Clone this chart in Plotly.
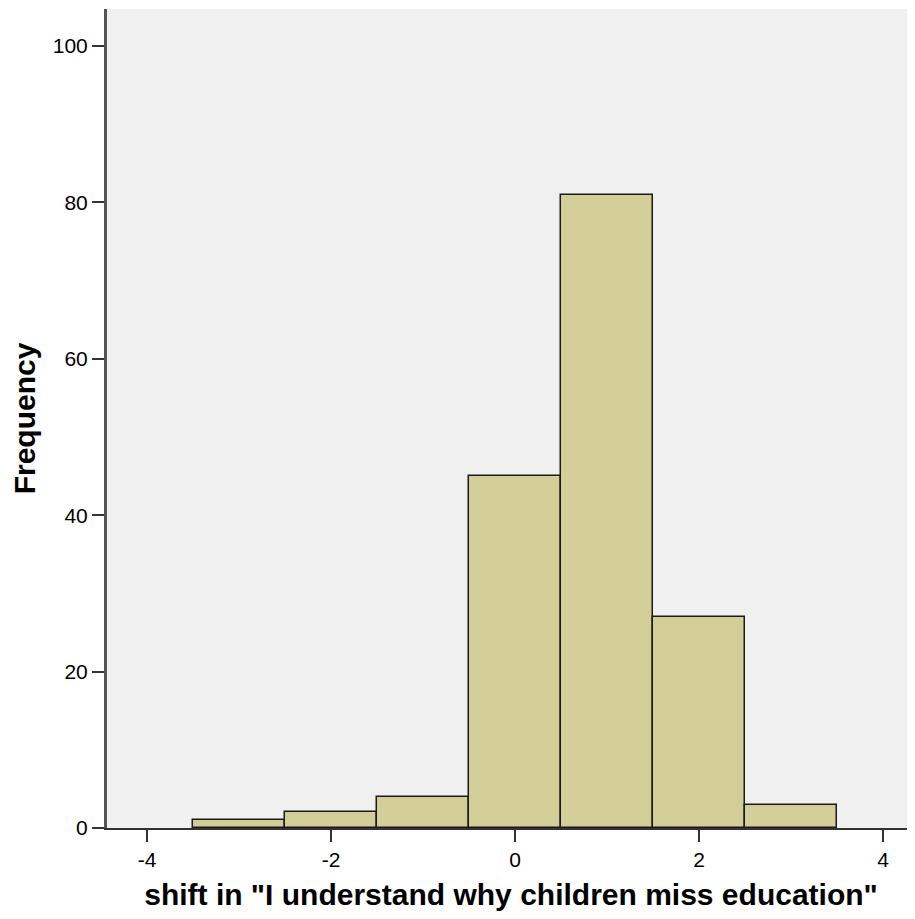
import plotly.graph_objects as go

bin_centers = [-3, -2, -1, 0, 1, 2, 3]
frequencies = [1, 2, 4, 45, 81, 27, 3]
x_ticks = [-4, -2, 0, 2, 4]
y_ticks = [0, 20, 40, 60, 80, 100]

FONT = "Liberation Sans, Arial, sans-serif"

fig = go.Figure()
fig.add_trace(go.Bar(
    x=bin_centers, y=frequencies, width=1,
    marker=dict(color="#D3CE97", line=dict(color="#1a1a1a", width=1.5)),
    showlegend=False,
))

fig.update_layout(
    width=907, height=911,
    margin=dict(l=99, r=0, t=1, b=91),
    paper_bgcolor="white", plot_bgcolor="#F0F0F0",
    bargap=0,
    font=dict(family=FONT, color="black"),
    xaxis=dict(
        range=[-4.435, 4.348], tickvals=x_ticks, ticktext=[str(v) for v in x_ticks],
        ticks="outside", ticklen=12, tickwidth=2, tickcolor="#333",
        showline=True, linecolor="#333", linewidth=2,
        showgrid=False, zeroline=False, automargin=False,
        tickfont=dict(size=21),
        title=dict(text='shift in "I understand why children miss education"',
                   font=dict(size=30, family=FONT, weight="bold"),
                   standoff=14),
    ),
    yaxis=dict(
        range=[0, 104.73], tickvals=y_ticks, ticktext=[str(v) for v in y_ticks],
        ticks="outside", ticklen=12, tickwidth=2, tickcolor="#333",
        showline=True, linecolor="#555", linewidth=3,
        showgrid=False, zeroline=False, automargin=False,
        tickfont=dict(size=21),
        title=dict(text="Frequency",
                   font=dict(size=30, family=FONT, weight="bold"),
                   standoff=14),
    ),
)

fig.write_html("out.html")
